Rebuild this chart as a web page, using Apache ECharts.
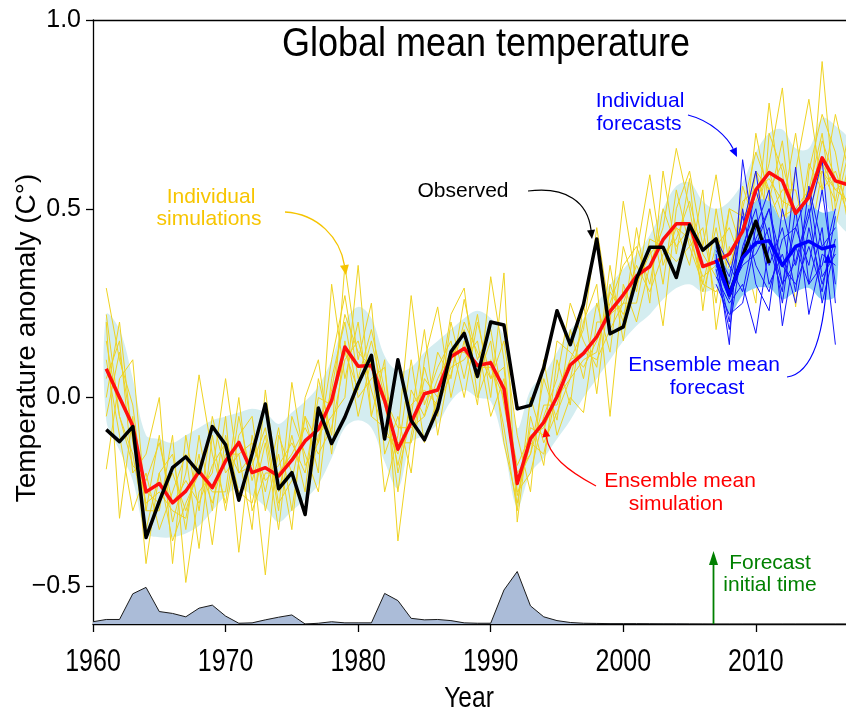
<!DOCTYPE html>
<html>
<head>
<meta charset="utf-8">
<script src="https://cdn.jsdelivr.net/npm/echarts@6/dist/echarts.min.js"></script>
<style>
  html, body { margin: 0; padding: 0; background: #ffffff; }
  #chart { width: 846px; height: 719px; }
</style>
</head>
<body>
<div id="chart"></div>
<script>
// ---- Years ----
const simYears = [1961,1962,1963,1964,1965,1966,1967,1968,1969,1970,1971,1972,1973,1974,1975,1976,1977,1978,1979,1980,
  1981,1982,1983,1984,1985,1986,1987,1988,1989,1990,1991,1992,1993,1994,1995,1996,1997,1998,1999,2000,
  2001,2002,2003,2004,2005,2006,2007,2008,2009,2010,2011,2012,2013,2014,2015,2016,2017];
const obsYears = [1961,1962,1963,1964,1965,1966,1967,1968,1969,1970,1971,1972,1973,1974,1975,1976,1977,1978,1979,1980,
  1981,1982,1983,1984,1985,1986,1987,1988,1989,1990,1991,1992,1993,1994,1995,1996,1997,1998,1999,2000,
  2001,2002,2003,2004,2005,2006,2007,2008,2009,2010,2011];
const fcYears = [2007,2008,2009,2010,2011,2012,2013,2014,2015,2016];
const volcYears = [1960,1961,1962,1963,1964,1965,1966,1967,1968,1969,1970,1971,1972,1973,1974,1975,1976,1977,1978,1979,
  1980,1981,1982,1983,1984,1985,1986,1987,1988,1989,1990,1991,1992,1993,1994,1995,1996,1997,1998,1999,
  2000,2001,2002,2003,2004,2005,2006,2007,2008,2009,2010,2011,2012,2013,2014,2015,2016,2017];

// ---- Tick labels ----
const xTickYears = [1960, 1970, 1980, 1990, 2000, 2010];
const yTickValues = [-0.5, 0.0, 0.5, 1.0];

// ---- Observed anomaly (C) ----
const observed = [-0.085,-0.117,-0.077,-0.371,-0.275,-0.186,-0.157,-0.199,-0.077,-0.125,-0.272,-0.150,-0.017,-0.242,-0.199,-0.310,-0.028,-0.122,-0.052,0.036,
  0.112,-0.110,0.100,-0.061,-0.112,-0.030,0.121,0.170,0.056,0.200,0.192,-0.030,-0.021,0.079,0.230,0.140,0.247,0.420,0.169,0.187,
  0.315,0.398,0.398,0.318,0.457,0.390,0.420,0.272,0.374,0.467,0.356];

// ---- Ensemble mean simulation ----
const simMean = [0.076,0.000,-0.075,-0.250,-0.228,-0.279,-0.248,-0.196,-0.239,-0.168,-0.119,-0.199,-0.186,-0.208,-0.166,-0.115,-0.084,-0.008,0.134,0.083,
  0.085,-0.008,-0.137,-0.066,0.010,0.020,0.108,0.130,0.085,0.092,0.023,-0.228,-0.109,-0.066,0.002,0.086,0.117,0.161,0.228,0.272,
  0.322,0.347,0.418,0.460,0.460,0.347,0.360,0.380,0.440,0.550,0.596,0.574,0.488,0.530,0.635,0.574,0.563];

// ---- Simulation spread ----
const simUpper = [0.22,0.18,0.05,-0.10,-0.11,-0.12,-0.10,-0.08,-0.06,-0.05,-0.04,-0.03,-0.04,-0.07,-0.04,-0.01,0.03,0.10,0.20,0.24,
  0.21,0.11,0.07,0.08,0.12,0.15,0.18,0.21,0.23,0.21,0.16,-0.08,0.02,0.06,0.12,0.18,0.21,0.25,0.30,0.34,
  0.38,0.43,0.50,0.56,0.57,0.52,0.50,0.52,0.57,0.65,0.70,0.71,0.66,0.66,0.74,0.72,0.68];
const simLower = [-0.06,-0.14,-0.22,-0.36,-0.37,-0.37,-0.36,-0.34,-0.30,-0.26,-0.24,-0.26,-0.29,-0.33,-0.30,-0.27,-0.23,-0.16,-0.08,-0.06,
  -0.08,-0.17,-0.24,-0.12,-0.10,-0.07,-0.01,0.02,0.00,-0.01,-0.13,-0.29,-0.20,-0.16,-0.11,-0.06,0.00,0.05,0.10,0.15,
  0.19,0.22,0.26,0.29,0.30,0.28,0.29,0.31,0.34,0.42,0.48,0.47,0.41,0.43,0.52,0.47,0.44];

// ---- Individual simulations ----
const simA = [0.29,0.10,-0.02,-0.30,-0.10,-0.33,-0.20,0.06,-0.15,-0.28,-0.05,-0.22,-0.10,-0.30,0.04,-0.18,-0.12,0.10,0.27,0.05,
  0.18,0.02,-0.25,0.02,-0.05,0.12,0.05,0.26,0.10,0.18,-0.02,-0.20,-0.15,0.05,-0.06,0.18,0.05,0.25,0.12,0.40,
  0.28,0.50,0.30,0.55,0.40,0.45,0.25,0.50,0.38,0.70,0.52,0.68,0.40,0.62,0.55,0.75,0.60];
const simB = [0.20,-0.32,-0.05,-0.44,-0.20,-0.15,-0.35,-0.10,-0.30,-0.05,-0.41,-0.10,-0.25,-0.08,-0.30,-0.05,-0.20,0.30,0.05,0.20,
  -0.05,0.10,-0.38,-0.10,0.08,-0.05,0.20,0.05,0.22,0.00,0.33,-0.33,-0.05,-0.18,0.10,-0.02,0.25,0.01,0.30,0.20,
  0.45,0.25,0.60,0.38,0.58,0.23,0.50,0.30,0.56,0.45,0.78,0.50,0.70,0.45,0.89,0.50,0.65];
const simC = [0.05,0.15,-0.20,-0.15,0.00,-0.44,-0.10,-0.30,-0.05,-0.20,-0.15,-0.35,0.02,-0.25,-0.10,-0.25,0.05,-0.10,0.35,0.10,
  0.25,-0.15,-0.05,-0.20,0.10,0.24,0.00,0.15,-0.02,0.32,0.10,-0.25,-0.20,-0.05,0.05,0.25,0.15,0.08,0.35,0.15,
  0.38,0.59,0.35,0.45,0.35,0.55,0.18,0.40,0.30,0.48,0.62,0.82,0.45,0.55,0.70,0.45,0.62];
const simD = [-0.19,0.05,0.10,-0.30,-0.30,-0.10,-0.49,-0.25,-0.20,0.05,-0.20,-0.15,-0.47,-0.10,-0.20,-0.30,-0.10,-0.05,0.00,0.35,
  -0.05,-0.08,-0.15,0.10,-0.12,0.00,0.22,0.29,0.00,0.10,-0.08,-0.30,0.00,-0.12,-0.04,0.05,0.20,0.30,-0.05,0.30,
  0.20,0.35,0.45,0.66,0.50,0.30,0.45,0.27,0.50,0.65,0.55,0.45,0.60,0.79,0.55,0.60,0.50];
const simE = [0.10,-0.10,-0.30,-0.20,-0.35,-0.25,-0.15,-0.40,-0.10,-0.30,-0.10,-0.05,-0.30,-0.15,-0.35,0.00,0.10,-0.15,0.15,-0.05,
  0.10,-0.25,-0.10,0.27,-0.02,0.08,0.15,0.00,0.20,0.05,0.15,-0.10,-0.25,0.10,-0.10,0.00,-0.04,0.20,0.20,0.52,
  0.30,0.40,0.19,0.50,0.60,0.40,0.59,0.35,0.40,0.25,0.70,0.60,0.24,0.60,0.75,0.65,0.45];
const simF = [0.00,0.20,-0.12,-0.28,-0.25,-0.30,-0.32,-0.15,-0.39,-0.10,-0.25,-0.28,-0.12,-0.35,-0.05,-0.15,-0.25,0.05,0.20,0.00,
  0.05,0.08,-0.20,-0.05,0.18,-0.10,0.10,0.18,0.05,0.15,-0.12,-0.28,-0.08,-0.10,0.15,0.12,0.08,0.15,0.25,0.35,
  0.40,0.30,0.50,0.40,0.45,0.28,0.40,0.45,0.35,0.60,0.48,0.55,0.55,0.40,0.60,0.52,0.70];
const simG = [0.15,-0.05,-0.15,-0.35,-0.20,-0.38,-0.28,-0.20,-0.25,-0.25,0.00,-0.30,-0.20,-0.20,-0.15,-0.08,-0.15,-0.08,0.10,0.15,
  0.02,-0.10,-0.12,-0.12,0.05,0.00,0.08,0.10,0.15,-0.05,0.05,-0.22,-0.15,-0.02,-0.02,0.10,0.18,0.45,0.22,0.25,
  0.35,0.28,0.38,0.42,0.52,0.38,0.32,0.50,0.48,0.52,0.60,0.48,0.50,0.48,0.62,0.55,0.58];
const simH = [-0.05,0.12,-0.10,-0.25,-0.28,-0.20,-0.30,-0.18,-0.28,-0.15,-0.15,-0.12,-0.22,-0.18,-0.12,-0.20,0.00,-0.02,0.12,0.02,
  0.15,0.00,-0.08,-0.08,-0.05,0.05,0.12,0.12,0.08,0.08,0.00,-0.18,-0.10,-0.08,0.00,0.05,0.10,0.12,0.28,0.22,
  0.30,0.38,0.42,0.45,0.42,0.32,0.35,0.30,0.52,0.55,0.58,0.52,0.50,0.55,0.60,0.55,0.52];
const simI = [0.22,-0.05,-0.18,-0.22,-0.12,-0.28,-0.22,-0.28,-0.18,-0.12,-0.20,-0.18,-0.08,-0.28,-0.22,-0.05,-0.12,0.02,0.22,0.12,
  0.08,-0.02,-0.18,-0.02,0.02,-0.02,0.06,0.20,0.12,0.05,0.08,-0.26,-0.12,-0.15,0.02,0.10,0.12,0.10,0.18,0.25,
  0.25,0.42,0.40,0.36,0.40,0.30,0.28,0.35,0.45,0.60,0.55,0.62,0.48,0.50,0.68,0.58,0.48];
const simMembers = [simA, simB, simC, simD, simE, simF, simG, simH, simI];

// ---- Forecasts ----
const fcMean = [0.365,0.272,0.370,0.410,0.415,0.350,0.400,0.414,0.394,0.403];
const fcUpper = [0.41,0.34,0.45,0.52,0.52,0.47,0.50,0.51,0.49,0.49];
const fcLower = [0.32,0.22,0.27,0.29,0.29,0.26,0.28,0.29,0.26,0.27];
const fc1 = [0.38,0.14,0.63,0.40,0.50,0.30,0.45,0.35,0.55,0.30];
const fc2 = [0.40,0.30,0.45,0.60,0.35,0.45,0.28,0.56,0.40,0.45];
const fc3 = [0.32,0.25,0.30,0.17,0.40,0.28,0.61,0.30,0.35,0.50];
const fc4 = [0.36,0.20,0.50,0.30,0.23,0.50,0.35,0.48,0.63,0.25];
const fc5 = [0.42,0.35,0.28,0.45,0.55,0.19,0.40,0.30,0.45,0.14];
const fc6 = [0.34,0.18,0.40,0.50,0.30,0.38,0.25,0.45,0.30,0.42];
const fc7 = [0.37,0.28,0.35,0.38,0.45,0.25,0.50,0.22,0.38,0.35];
const fc8 = [0.30,0.22,0.25,0.42,0.50,0.35,0.30,0.40,0.28,0.48];
const fc9 = [0.39,0.32,0.48,0.35,0.28,0.42,0.45,0.55,0.32,0.38];
const fc10 = [0.35,0.26,0.38,0.55,0.42,0.30,0.36,0.50,0.25,0.40];
const fcMembers = [fc1, fc2, fc3, fc4, fc5, fc6, fc7, fc8, fc9, fc10];

// ---- Volcanic aerosol (height above the bottom of the plot, in axis units) ----
const volcanic = [0.006,0.012,0.012,0.080,0.097,0.033,0.028,0.019,0.042,0.050,0.021,0.002,0.003,0.011,0.018,0.024,0.000,0.002,0.006,0.003,
  0.003,0.003,0.081,0.062,0.015,0.011,0.012,0.009,0.003,0.002,0.002,0.090,0.139,0.048,0.019,0.009,0.004,0.002,0.0015,0.001,
  0.001,0.001,0.0008,0.0006,0.0005,0.0003,0.0002,0.0,0.0,0.0,0.0,0.0,0.0,0.0,0.0,0.0,0.0,0.0];

const Y_MIN = -0.6, Y_MAX = 1.0;
const X_MIN = 1960, X_MAX = 2016.8;

const SANS = '"Liberation Sans", Arial, Helvetica, sans-serif';

const pairs = (xs, ys) => xs.map((x, i) => [x, ys[i]]);

function bandSeries(name, xs, lower, upper, color, z) {
  const rows = xs.map((x, i) => [x, lower[i], upper[i]]);
  return {
    type: 'custom', name, z, silent: true, clip: true,
    data: rows,
    encode: { x: 0, y: [1, 2] },
    renderItem(params, api) {
      if (params.dataIndex !== 0) return null;
      const top = rows.map(r => api.coord([r[0], r[2]]));
      const bot = rows.map(r => api.coord([r[0], r[1]])).reverse();
      return {
        type: 'polygon',
        shape: { points: top.concat(bot), smooth: 0.35 },
        style: { fill: color, stroke: null }
      };
    }
  };
}

function lineSeries(name, xs, ys, color, width, z) {
  return {
    type: 'line', name, z, data: pairs(xs, ys),
    showSymbol: false, symbol: 'none', silent: true, clip: true,
    lineStyle: { color, width, join: 'round' }
  };
}

const series = [];
series.push(bandSeries('simSpread', simYears, simLower, simUpper, '#d4edf0', 1));
series.push({
  type: 'line', name: 'volcanic', z: 2, silent: true,
  data: volcYears.map((x, i) => [x, Y_MIN + volcanic[i]]),
  showSymbol: false, symbol: 'none',
  lineStyle: { color: '#1a1a1a', width: 1 },
  areaStyle: { color: '#abbcd8', opacity: 1, origin: 'start' }
});
simMembers.forEach((m, k) => series.push(lineSeries('sim' + k, simYears, m, '#efd322', 1, 3)));
series.push(bandSeries('fcSpread', fcYears, fcLower, fcUpper, '#8fcff3', 4));
fcMembers.forEach((m, k) => series.push(lineSeries('fc' + k, fcYears, m, '#1414ff', 1, 5)));
series.push(lineSeries('Ensemble mean simulation', simYears, simMean, '#ff0d0d', 3.5, 6));
series.push(lineSeries('Observed', obsYears, observed, '#000000', 3.5, 7));
series.push(lineSeries('Ensemble mean forecast', fcYears, fcMean, '#0000ff', 3.5, 8));

// curved annotation arrow: cubic bezier with a filled head at the end point
function curvedArrow(p0, c1, c2, p3, color, width, head) {
  const ang = Math.atan2(p3[1] - c2[1], p3[0] - c2[0]);
  const L = head || 9, W = (head || 9) * 0.45;
  const bx = p3[0] - L * Math.cos(ang), by = p3[1] - L * Math.sin(ang);
  const px = -Math.sin(ang) * W, py = Math.cos(ang) * W;
  return [
    { type: 'bezierCurve', silent: true, z: 20,
      shape: { x1: p0[0], y1: p0[1], cpx1: c1[0], cpy1: c1[1], cpx2: c2[0], cpy2: c2[1], x2: bx, y2: by },
      style: { stroke: color, lineWidth: width, fill: null } },
    { type: 'polygon', silent: true, z: 20,
      shape: { points: [[p3[0], p3[1]], [bx + px, by + py], [bx - px, by - py]] },
      style: { fill: color } }
  ];
}

// centred text; sx < 1 gives the condensed look of the axis lettering
function label(text, x, y, color, size, sx) {
  return { type: 'text', silent: true, z: 20, x, y, scaleX: sx || 1,
    style: { text, fill: color, font: `${size}px ${SANS}`, align: 'center', verticalAlign: 'middle' } };
}

const chart = echarts.init(document.getElementById('chart'), null, { renderer: 'canvas' });
chart.setOption({
  animation: false,
  backgroundColor: '#ffffff',
  grid: { left: 93, right: 0, top: 20, bottom: 95, containLabel: false },
  xAxis: [
    {
      type: 'value', min: X_MIN, max: X_MAX, position: 'bottom',
      splitLine: { show: false },
      axisLine: { show: true, onZero: false, lineStyle: { color: '#000', width: 1.3 } },
      axisTick: { show: true, inside: false, length: 8, customValues: xTickYears, lineStyle: { color: '#000', width: 1.3 } },
      axisLabel: { show: false }
    },
    {
      type: 'value', min: X_MIN, max: X_MAX, position: 'top',
      splitLine: { show: false },
      axisLine: { show: true, onZero: false, lineStyle: { color: '#000', width: 1.3 } },
      axisTick: { show: false }, axisLabel: { show: false }
    }
  ],
  yAxis: {
    type: 'value', min: Y_MIN, max: Y_MAX, position: 'left',
    splitLine: { show: false },
    axisLine: { show: true, onZero: false, lineStyle: { color: '#000', width: 1.3 } },
    axisTick: { show: true, inside: false, length: 7, customValues: yTickValues, lineStyle: { color: '#000', width: 1.3 } },
    axisLabel: { show: true, customValues: yTickValues, color: '#000', fontSize: 25, fontFamily: SANS, margin: 12,
      formatter: v => v.toFixed(1).replace('-', '\u2212') }
  },
  series
});

// condensed year labels placed under the ticks through the axis scale
const axisBottom = chart.convertToPixel({ yAxisIndex: 0 }, Y_MIN);
const yearLabels = xTickYears.map(yr =>
  label(String(yr), chart.convertToPixel({ xAxisIndex: 0 }, yr), axisBottom + 38, '#000000', 32, 0.78));

const graphics = [
  ...yearLabels,
  label('Global mean temperature', 486, 45, '#000000', 40, 0.9),
  { type: 'text', silent: true, z: 20, x: 27, y: 338, rotation: Math.PI / 2,
    style: { text: 'Temperature anomaly (C°)', fill: '#000000', font: `28px ${SANS}`, align: 'center', verticalAlign: 'middle' } },
  label('Year', 469, 699, '#000000', 30, 0.82),
  label('Individual', 211, 197, '#f7c500', 21),
  label('simulations', 209, 219, '#f7c500', 21),
  label('Observed', 463, 191, '#000000', 21),
  label('Individual', 640, 101, '#0000ff', 21),
  label('forecasts', 639, 124, '#0000ff', 21),
  label('Ensemble mean', 704, 365, '#0000ff', 21),
  label('forecast', 707, 388, '#0000ff', 21),
  label('Ensemble mean', 680, 481, '#ff0000', 21),
  label('simulation', 676, 504, '#ff0000', 21),
  label('Forecast', 770, 563, '#008000', 21),
  label('initial time', 770, 585, '#008000', 21),
  ...curvedArrow([285, 212], [318, 214], [340, 238], [346, 275], '#f5c400', 1.3, 10),
  ...curvedArrow([528, 191], [566, 186], [588, 202], [592, 239], '#000000', 1.2, 9),
  ...curvedArrow([688, 115], [712, 121], [728, 138], [737, 157], '#0000ff', 1.2, 9),
  ...curvedArrow([787, 377], [817, 373], [826, 318], [828, 254], '#0000ff', 1.2, 9),
  ...curvedArrow([596, 486], [566, 470], [549, 455], [545, 428], '#ff0000', 1.2, 9),
  { type: 'line', silent: true, z: 20, shape: { x1: 713.5, y1: 624, x2: 713.5, y2: 562 },
    style: { stroke: '#008000', lineWidth: 1.8 } },
  { type: 'polygon', silent: true, z: 20, shape: { points: [[713.5, 551], [709, 565], [718, 565]] },
    style: { fill: '#008000' } }
];
chart.setOption({ graphic: { elements: graphics } });
</script>
</body>
</html>
